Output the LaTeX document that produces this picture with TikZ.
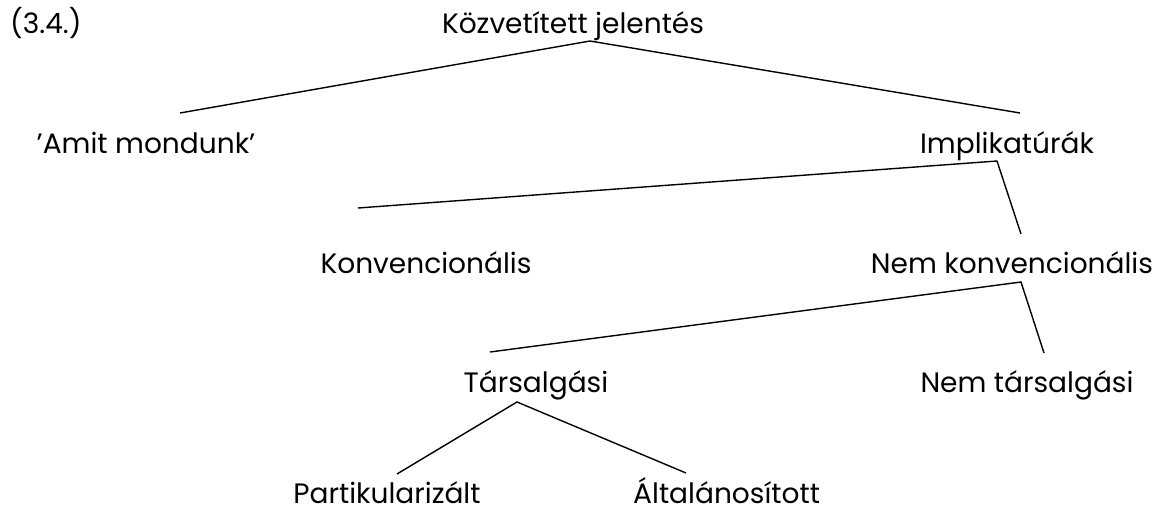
\documentclass[tikz,border=0pt]{standalone}
\usepackage{fontspec}
\newfontfamily\basefont{Poppins}
\newlength\tw
\begin{document}
\settowidth\tw{\basefont\fontsize{20}{24}\selectfont Közvetített jelentés}
\pgfmathsetmacro\fsz{20*262/\tw}
\begin{tikzpicture}[x=1pt,y=-1pt,
  lbl/.style={font=\basefont\fontsize{\fsz}{\fsz}\selectfont, inner sep=0pt, anchor=base},
  branch/.style={line width=1.4pt, black}]
\useasboundingbox (0,0) rectangle (1171,517);
% labels
\node[lbl, anchor=base west] (num) at (10,33) {(3.4.)};
\node[lbl] (kj) at (573,33) {Közvetített jelentés};
\node[lbl] (am) at (146,153) {’Amit mondunk’};
\node[lbl] (im) at (1007,153) {Implikatúrák};
\node[lbl] (ko) at (426,273) {Konvencionális};
\node[lbl] (nk) at (1012,273) {Nem konvencionális};
\node[lbl] (ta) at (536,392) {Társalgási};
\node[lbl] (nt) at (1027,392) {Nem társalgási};
\node[lbl] (pa) at (387,503) {Partikularizált};
\node[lbl, anchor=base west] (al) at (633,503) {Általánosított};
% branch points
\coordinate (a0) at (590,41);
\coordinate (a0l) at (180,113);
\coordinate (a0r) at (1020,113);
\coordinate (a1) at (997,161);
\coordinate (a1l) at (358,208);
\coordinate (a1r) at (1021,234);
\coordinate (a2) at (1021,282);
\coordinate (a2l) at (490,352);
\coordinate (a2r) at (1044,353);
\coordinate (a3) at (517,402);
\coordinate (a3l) at (397,474);
\coordinate (a3r) at (686,473);
\draw[branch] (a0l) -- (a0) -- (a0r);
\draw[branch] (a1l) -- (a1) -- (a1r);
\draw[branch] (a2l) -- (a2) -- (a2r);
\draw[branch] (a3l) -- (a3) -- (a3r);
\end{tikzpicture}
\end{document}
